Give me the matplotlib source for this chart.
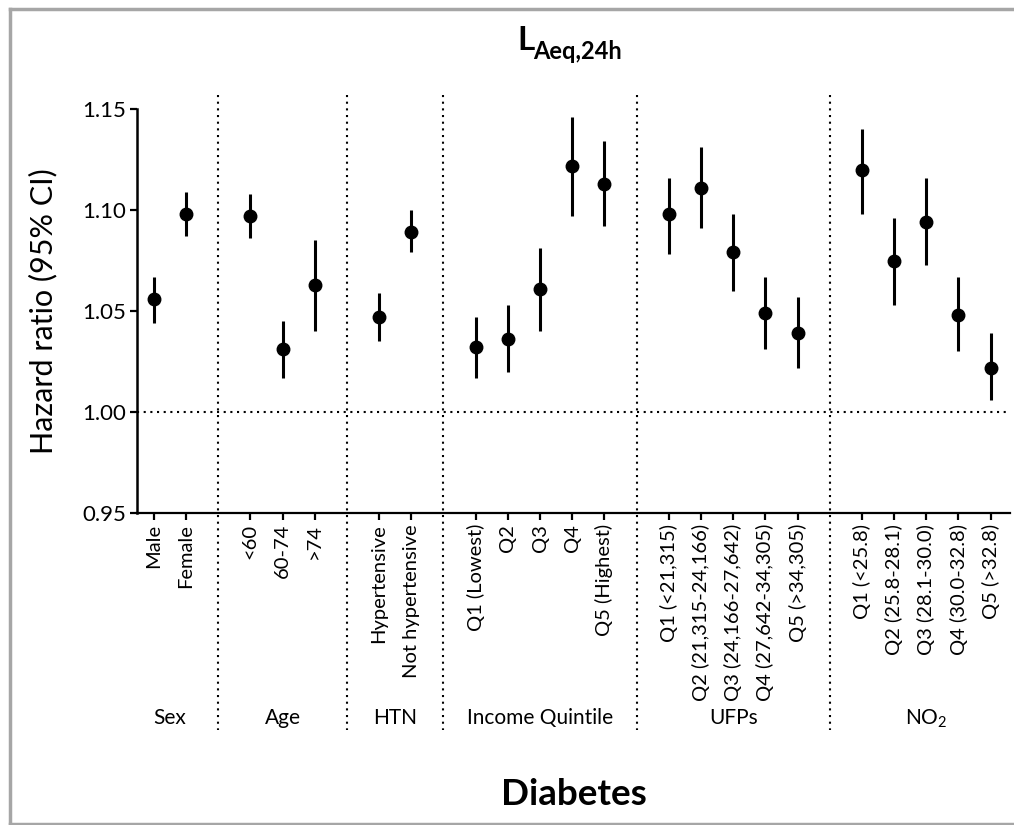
import matplotlib
matplotlib.use("Agg")
import matplotlib.pyplot as plt
from matplotlib.lines import Line2D
from matplotlib.transforms import blended_transform_factory

plt.rcParams['font.family'] = ['Lato', 'DejaVu Sans']
plt.rcParams['mathtext.fontset'] = 'custom'
plt.rcParams['mathtext.rm'] = 'Lato'
plt.rcParams['mathtext.bf'] = 'Lato:bold'

# ---- data ----
groups = ["Sex", "Age", "HTN", "Income Quintile", "UFPs", "NO$_2$"]
categories = [
    ["Male", "Female"],
    ["<60", "60-74", ">74"],
    ["Hypertensive", "Not hypertensive"],
    ["Q1 (Lowest)", "Q2", "Q3", "Q4", "Q5 (Highest)"],
    ["Q1 (<21,315)", "Q2 (21,315-24,166)", "Q3 (24,166-27,642)", "Q4 (27,642-34,305)", "Q5 (>34,305)"],
    ["Q1 (<25.8)", "Q2 (25.8-28.1)", "Q3 (28.1-30.0)", "Q4 (30.0-32.8)", "Q5 (>32.8)"],
]
hr = [
    [1.056, 1.098],
    [1.097, 1.031, 1.063],
    [1.047, 1.089],
    [1.032, 1.036, 1.061, 1.122, 1.113],
    [1.098, 1.111, 1.079, 1.049, 1.039],
    [1.120, 1.075, 1.094, 1.048, 1.022],
]
lower = [
    [1.044, 1.087],
    [1.086, 1.017, 1.040],
    [1.035, 1.079],
    [1.017, 1.020, 1.040, 1.097, 1.092],
    [1.078, 1.091, 1.060, 1.031, 1.022],
    [1.098, 1.053, 1.073, 1.030, 1.006],
]
upper = [
    [1.067, 1.109],
    [1.108, 1.045, 1.085],
    [1.059, 1.100],
    [1.047, 1.053, 1.081, 1.146, 1.134],
    [1.116, 1.131, 1.098, 1.067, 1.057],
    [1.140, 1.096, 1.116, 1.067, 1.039],
]
yticks = [0.95, 1.00, 1.05, 1.10, 1.15]

# ---- positions ----
gap = 1
xs, labels, ys, los, his, centers, dividers = [], [], [], [], [], [], []
pos = 0
for gi, cats in enumerate(categories):
    gx = []
    for ci, c in enumerate(cats):
        xs.append(pos); gx.append(pos)
        labels.append(c)
        ys.append(hr[gi][ci]); los.append(lower[gi][ci]); his.append(upper[gi][ci])
        pos += 1
    centers.append(sum(gx) / len(gx))
    if gi < len(categories) - 1:
        dividers.append(pos - 1 + (gap + 1) / 2)
    pos += gap

W, H = 1014, 825
fig = plt.figure(figsize=(W / 100, H / 100), dpi=100)
ax = fig.add_axes([137 / W, 1 - 513 / H, (1010 - 137) / W, (513 - 109) / H])

yerr = [[y - l for y, l in zip(ys, los)], [h - y for y, h in zip(ys, his)]]
ax.errorbar(xs, ys, yerr=yerr, fmt='o', color='black', ms=9, elinewidth=2.2,
            capsize=0, zorder=3)

ax.set_ylim(0.95, 1.15)
ax.set_xlim(-0.52, 26.6)
ax.set_yticks(yticks)
ax.set_yticklabels([f"{v:.2f}" for v in yticks], fontsize=16)
ax.set_xticks(xs)
ax.set_xticklabels(labels, rotation=90, fontsize=14.5, va='top')
ax.tick_params(axis='both', direction='out', length=5, width=1.6, color='black', pad=3)
for s in ['top', 'right']:
    ax.spines[s].set_visible(False)
ax.spines['left'].set_linewidth(1.8)
ax.spines['bottom'].set_linewidth(1.6)
ax.set_ylabel("Hazard ratio (95% CI)", fontsize=22, labelpad=18)

ax.axhline(1.0, color='black', lw=1.5, ls=(0, (1, 2.2)), zorder=1)

tr = blended_transform_factory(ax.transData, fig.transFigure)
for d in dividers:
    ax.add_line(Line2D([d, d], [1 - 95 / H, 1 - 730 / H], transform=tr, color='black',
                       lw=1.5, ls=(0, (1, 2.2)), clip_on=False, zorder=1))
for c, g in zip(centers, groups):
    ax.text(c, 1 - 724 / H, g, transform=tr, ha='center', va='baseline', fontsize=15)

# title
fig.text(517 / W, 1 - 50 / H, "L", fontsize=24, fontweight='bold', ha='left', va='baseline')
fig.text(533 / W, 1 - 59 / H, "Aeq,24h", fontsize=17, fontweight='bold', ha='left', va='baseline')
fig.text(574 / W, 1 - 805 / H, "Diabetes", fontsize=26.5, fontweight='bold', ha='center', va='baseline')

# frame
gray = '#a6a6a6'
fig.add_artist(Line2D([10 / W, 10 / W], [1 - 9 / H, 1 - 824 / H], transform=fig.transFigure, color=gray, lw=2.5))
fig.add_artist(Line2D([10 / W, 1], [1 - 9 / H, 1 - 9 / H], transform=fig.transFigure, color=gray, lw=2.5))
fig.add_artist(Line2D([10 / W, 1], [1 - 824 / H, 1 - 824 / H], transform=fig.transFigure, color=gray, lw=2.5))

fig.savefig("out.png", dpi=100)
